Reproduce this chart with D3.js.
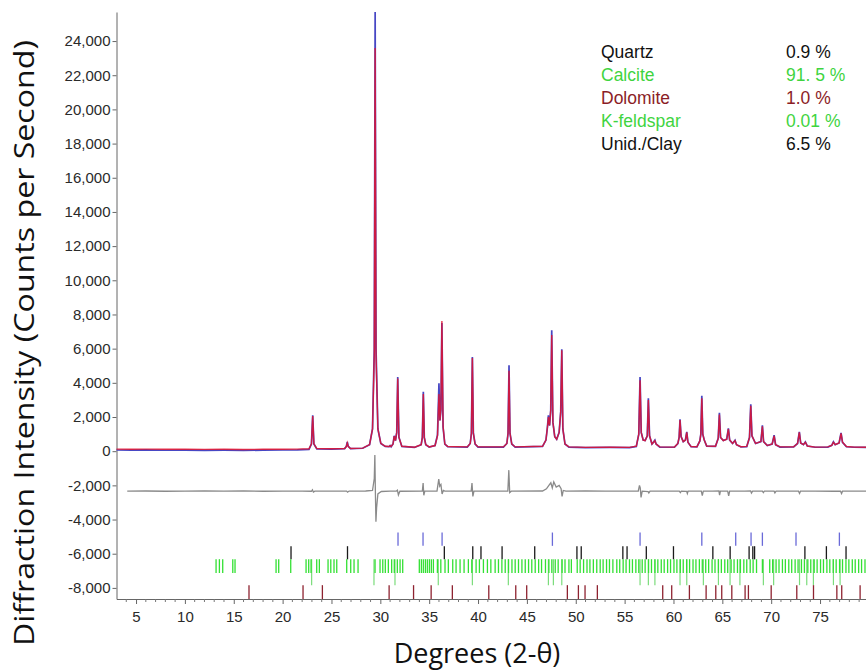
<!DOCTYPE html>
<html>
<head>
<meta charset="utf-8">
<script src="https://cdn.jsdelivr.net/npm/d3@7"></script>
<style>
  body { margin: 0; background: #fff; }
  svg { display: block; }
</style>
</head>
<body>
<svg id="chart" width="866" height="672"></svg>
<script>
// ---- X-ray diffraction pattern: observed vs. calculated (Rietveld fit) ----

// Observed intensity, [2-theta degrees, counts per second]
const observed = [
  [3.0, 70], [4.5, 60], [6.0, 75], [8.0, 55], [10.0, 65], [12.0, 50], [14.0, 60], [16.0, 45], [18.0, 60], [20.0, 70], [21.5, 80], [22.7, 110],
  [22.95, 420], [23.08, 2100], [23.2, 420], [23.5, 130],
  [25.0, 120], [26.35, 150], [26.52, 280], [26.62, 540], [26.72, 280], [26.95, 150],
  [28.2, 170], [28.9, 380], [29.2, 1300], [29.38, 6000], [29.47, 25700], [29.56, 6000], [29.75, 1300], [30.05, 450], [30.5, 280],
  [30.9, 260], [31.0, 330], [31.1, 260], [31.3, 420], [31.42, 900], [31.55, 620], [31.68, 1100], [31.78, 4345], [31.9, 820], [32.2, 280],
  [33.5, 220], [34.18, 380], [34.3, 800], [34.4, 3470], [34.5, 800], [34.65, 380], [35.0, 240],
  [35.6, 330], [35.85, 950], [36.0, 3980], [36.1, 1800], [36.2, 2400], [36.3, 7500], [36.42, 1400], [36.6, 420], [36.9, 260],
  [38.9, 240], [39.2, 450], [39.32, 1050], [39.42, 5515], [39.52, 1050], [39.7, 420], [40.0, 240],
  [42.6, 240], [42.95, 450], [43.07, 1050], [43.17, 5030], [43.27, 1050], [43.45, 420], [43.8, 240],
  [46.6, 280], [46.95, 650], [47.1, 1400], [47.2, 2100], [47.32, 1500], [47.44, 2400], [47.54, 7076], [47.66, 1700], [47.85, 850], [48.05, 700], [48.3, 1100], [48.46, 2300], [48.57, 5965], [48.68, 1300], [48.9, 420], [49.3, 240],
  [51.0, 210], [53.5, 220], [55.5, 210],
  [56.2, 280], [56.45, 1000], [56.58, 4345], [56.7, 1100], [56.9, 650], [57.1, 620], [57.32, 900], [57.43, 3100], [57.55, 900], [57.8, 420], [58.0, 560], [58.1, 640], [58.22, 420], [58.6, 240],
  [60.1, 230], [60.45, 450], [60.58, 800], [60.67, 1870], [60.78, 850], [61.0, 560], [61.22, 650], [61.36, 1130], [61.48, 520], [61.8, 260],
  [62.4, 250], [62.7, 600], [62.8, 1000], [62.9, 3240], [63.0, 1000], [63.15, 650], [63.4, 300],
  [64.3, 280], [64.58, 750], [64.7, 2240], [64.82, 800], [65.1, 620], [65.45, 700], [65.62, 1340], [65.75, 650], [66.05, 450], [66.3, 640], [66.45, 380], [66.9, 250],
  [67.5, 270], [67.78, 800], [67.91, 2750], [68.03, 900], [68.4, 450], [68.95, 560], [69.1, 1520], [69.22, 560], [69.6, 330], [70.1, 420], [70.3, 935], [70.45, 380], [70.9, 240],
  [72.3, 250], [72.7, 450], [72.88, 1130], [73.02, 480], [73.3, 380], [73.5, 545], [73.7, 300], [74.5, 230],
  [75.8, 240], [76.2, 340], [76.37, 545], [76.55, 380], [76.95, 480], [77.15, 1070], [77.3, 520], [77.7, 260], [78.5, 230], [80.0, 220]
];

// Calculated (refined model) intensity
const calculated = [
  [3.0, 120], [4.5, 115], [6.0, 120], [8.0, 110], [10.0, 115], [12.0, 105], [14.0, 110], [16.0, 100], [18.0, 110], [20.0, 115], [21.5, 120], [22.7, 140],
  [22.95, 430], [23.08, 2050], [23.2, 430], [23.5, 150],
  [25.0, 140], [26.35, 160], [26.52, 270], [26.62, 480], [26.72, 270], [26.95, 160],
  [28.2, 180], [28.9, 390], [29.2, 1300], [29.38, 5600], [29.47, 23600], [29.56, 5600], [29.75, 1300], [30.05, 460], [30.5, 290],
  [30.9, 270], [31.0, 320], [31.1, 270], [31.3, 420], [31.42, 880], [31.55, 620], [31.68, 1100], [31.78, 4250], [31.9, 820], [32.2, 290],
  [33.5, 230], [34.18, 380], [34.3, 790], [34.4, 3350], [34.5, 790], [34.65, 380], [35.0, 250],
  [35.6, 330], [35.85, 900], [36.0, 3350], [36.1, 1800], [36.2, 2500], [36.3, 7620], [36.42, 1450], [36.6, 420], [36.9, 270],
  [38.9, 250], [39.2, 450], [39.32, 1050], [39.42, 5450], [39.52, 1050], [39.7, 420], [40.0, 250],
  [42.6, 250], [42.95, 450], [43.07, 1050], [43.17, 4700], [43.27, 1050], [43.45, 420], [43.8, 250],
  [46.6, 290], [46.95, 650], [47.1, 1400], [47.2, 2000], [47.32, 1500], [47.44, 2400], [47.54, 6800], [47.66, 1700], [47.85, 850], [48.05, 700], [48.3, 1100], [48.46, 2300], [48.57, 5900], [48.68, 1300], [48.9, 420], [49.3, 250],
  [51.0, 220], [53.5, 230], [55.5, 220],
  [56.2, 290], [56.45, 1000], [56.58, 4150], [56.7, 1100], [56.9, 650], [57.1, 620], [57.32, 900], [57.43, 3000], [57.55, 900], [57.8, 420], [58.0, 550], [58.1, 620], [58.22, 420], [58.6, 250],
  [60.1, 240], [60.45, 450], [60.58, 800], [60.67, 1820], [60.78, 850], [61.0, 560], [61.22, 650], [61.36, 1100], [61.48, 520], [61.8, 270],
  [62.4, 260], [62.7, 600], [62.8, 1000], [62.9, 3100], [63.0, 1000], [63.15, 650], [63.4, 300],
  [64.3, 290], [64.58, 750], [64.7, 2150], [64.82, 800], [65.1, 620], [65.45, 700], [65.62, 1300], [65.75, 650], [66.05, 450], [66.3, 620], [66.45, 380], [66.9, 260],
  [67.5, 280], [67.78, 800], [67.91, 2650], [68.03, 900], [68.4, 450], [68.95, 560], [69.1, 1460], [69.22, 560], [69.6, 330], [70.1, 420], [70.3, 900], [70.45, 380], [70.9, 250],
  [72.3, 260], [72.7, 450], [72.88, 1100], [73.02, 480], [73.3, 380], [73.5, 520], [73.7, 300], [74.5, 240],
  [75.8, 250], [76.2, 340], [76.37, 520], [76.55, 380], [76.95, 480], [77.15, 1040], [77.3, 520], [77.7, 270], [78.5, 240], [80.0, 230]
];

// Difference curve (observed - calculated), drawn offset below zero
const difference = [
  [4.1, -2340], [6, -2330], [8, -2345], [10, -2335], [12, -2330], [14, -2340], [16, -2330], [18, -2345], [20, -2335], [22, -2340],
  [22.95, -2345], [23.05, -2260], [23.15, -2390], [23.3, -2335],
  [25, -2340], [26.55, -2340], [26.65, -2400], [26.8, -2335],
  [28.5, -2330], [29.2, -2300], [29.38, -1600], [29.44, -230], [29.5, -2600], [29.55, -4130], [29.62, -3300], [29.75, -2500], [30.1, -2360], [31.0, -2335],
  [31.65, -2330], [31.75, -2280], [31.85, -2560], [32.0, -2345],
  [34.3, -2340], [34.38, -1870], [34.45, -2580], [34.55, -2340],
  [35.8, -2330], [35.98, -1640], [36.08, -2050], [36.2, -1950], [36.32, -2500], [36.45, -2300], [36.6, -2340],
  [39.3, -2340], [39.38, -1870], [39.47, -2650], [39.58, -2340],
  [43.05, -2340], [43.15, -1110], [43.24, -2420], [43.4, -2340],
  [46.6, -2330], [47.0, -2200], [47.25, -2000], [47.45, -1850], [47.6, -2150], [47.75, -1800], [48.0, -2100], [48.3, -2000], [48.5, -2200], [48.6, -2650], [48.72, -2300], [49.0, -2340],
  [51, -2330], [53, -2340], [55, -2335], [56.4, -2330], [56.52, -2000], [56.6, -2150], [56.68, -2700], [56.8, -2340], [57.4, -2360], [57.48, -2450], [57.6, -2340],
  [59, -2335], [60.6, -2340], [60.7, -2420], [60.8, -2335], [61.35, -2350], [61.42, -2480], [61.5, -2335],
  [62.85, -2340], [62.95, -2600], [63.05, -2335], [64.0, -2340], [64.65, -2330], [64.72, -2570], [64.8, -2335], [65.55, -2340], [65.65, -2620], [65.75, -2335],
  [67.3, -2340], [67.9, -2330], [67.98, -2450], [68.1, -2335], [69.1, -2340], [69.2, -2420], [69.3, -2340], [70.3, -2340], [70.38, -2440], [70.5, -2335],
  [72.8, -2340], [72.9, -2470], [73.0, -2340], [74.5, -2335], [76.4, -2345], [77.1, -2340], [77.2, -2480], [77.3, -2340], [78.5, -2335], [80.0, -2340]
];

// Reflection positions (2-theta) for each phase row
const blueTicks = [31.81, 34.37, 36.32, 47.61, 56.58, 62.90, 66.37, 67.94, 69.10, 72.54, 76.98];
const quartzTicks = [20.86, 26.64, 36.55, 39.46, 40.30, 42.46, 45.80, 50.12, 50.56, 54.82, 55.25, 57.22, 60.00, 64.03, 65.80, 67.74, 68.12, 68.30, 73.45, 75.65, 77.66];
const feldsparTicks = [
  13.19, 13.53, 13.87, 14.90, 15.13, 19.33, 19.60, 20.83, 22.40, 22.67, 22.91, 23.49, 23.76,
  24.65, 24.93, 25.26, 25.54, 26.56, 26.97, 27.31, 27.72,
  29.46, 29.97, 30.25, 30.51, 30.82, 31.16, 31.43, 31.74, 32.02, 32.29,
  33.99, 34.20, 34.40, 34.61, 34.81, 35.02, 35.22, 35.43,
  35.84, 36.19, 36.62, 36.96, 37.41, 37.75, 38.16, 38.57, 39.01, 39.36, 39.80, 40.14, 40.55, 40.96,
  41.31, 41.75, 42.09, 42.44, 42.78, 43.12, 43.47, 43.80, 44.14, 44.49, 44.83, 45.17,
  45.50, 45.85, 46.20, 46.50, 46.90, 47.25, 47.55, 47.90, 48.20, 48.60, 48.90, 49.30, 49.55,
  50.15, 50.45, 50.80, 51.15, 51.45, 51.80, 52.15, 52.50, 52.80, 53.15, 53.45, 53.80, 54.20, 54.50,
  54.85, 55.15, 55.50, 55.80, 56.15, 56.45, 56.80, 57.10, 57.45, 57.75, 58.10, 58.40, 58.75, 59.05,
  59.40, 59.70, 60.05, 60.35, 60.70, 61.00, 61.35, 61.65, 62.00, 62.30, 62.65, 62.95, 63.30, 63.60,
  63.95, 64.25, 64.60, 64.90, 65.25, 65.55, 65.90, 66.20, 66.55, 66.85, 67.20, 67.50, 67.85, 68.15, 68.50,
  69.10,
  69.85, 70.15, 70.50, 70.80, 71.15, 71.45, 71.80, 72.10, 72.45, 72.75, 73.10, 73.40, 73.75, 74.05,
  74.40, 74.70, 75.05, 75.35, 75.70, 76.00, 76.35, 76.65, 77.00, 77.30, 77.65, 77.95, 78.30, 78.60,
  78.95, 79.25, 79.60
];
const calciteTicks = [22.97, 29.35, 31.50, 35.93, 39.42, 43.10, 47.20, 47.71, 48.57, 56.58, 57.43, 58.10, 60.67, 61.36, 63.06, 64.60, 65.79, 66.80, 69.20, 70.25, 72.90, 73.64, 74.32, 76.37, 77.05];
const dolomiteTicks = [16.56, 22.09, 24.07, 30.90, 33.40, 35.20, 37.37, 41.10, 43.86, 44.98, 49.14, 50.27, 50.95, 52.21, 58.90, 59.82, 61.63, 63.34, 64.33, 64.94, 65.97, 67.33, 67.67, 70.00, 72.62, 74.33, 76.72, 77.22, 79.10];

// Axis ticks
const yTicks = [-8000, -6000, -4000, -2000, 0, 2000, 4000, 6000, 8000, 10000, 12000, 14000, 16000, 18000, 20000, 22000, 24000];
const xTicks = [5, 10, 15, 20, 25, 30, 35, 40, 45, 50, 55, 60, 65, 70, 75];

// Quantification legend
const phaseNames = ["Quartz", "Calcite", "Dolomite", "K-feldspar", "Unid./Clay"];
const phasePercents = ["0.9 %", "91. 5 %", "1.0 %", "0.01 %", "6.5 %"];
const phaseColors = ["#111111", "#3fd43f", "#8b1d26", "#3fd43f", "#111111"];

// ---- drawing ----
const svg = d3.select("#chart");
const x = d3.scaleLinear().domain([3, 80]).range([116.5, 868.9]);
const y = d3.scaleLinear().domain([-8650, 25700]).range([599, 12]);

const fmt = d3.formatLocale({ decimal: ".", thousands: ",", grouping: [3], currency: ["", ""], minus: "-" }).format(",");

// x axis with minor ticks
const xAxisG = svg.append("g").attr("transform", `translate(0,${y(-8650)})`);
xAxisG.call(d3.axisBottom(x).tickValues(xTicks).tickSize(5).tickPadding(7).tickSizeOuter(0));
const minor = d3.range(4, 80).filter(v => v % 5 !== 0);
xAxisG.selectAll(".minor").data(minor).enter().append("line")
  .attr("class", "minor").attr("x1", d => x(d)).attr("x2", d => x(d))
  .attr("y1", 0).attr("y2", 3).attr("stroke", "#777");

const yAxisG = svg.append("g").attr("transform", `translate(${x(3)},0)`);
yAxisG.call(d3.axisLeft(y).tickValues(yTicks).tickFormat(fmt).tickSize(4).tickPadding(2).tickSizeOuter(0));

svg.selectAll(".domain").attr("stroke", "#666");
svg.selectAll(".tick line").attr("stroke", "#666");
svg.selectAll(".tick text").attr("fill", "#2a2a2a")
  .style("font-family", "'Liberation Sans', Arial, sans-serif").style("font-size", "15px");

// reflection marker rows
const rows = [
  { data: blueTicks, top: -4760, bottom: -5540, color: "#6a6ad8", w: 1.3 },
  { data: quartzTicks, top: -5560, bottom: -6330, color: "#1a1a1a", w: 1.3 },
  { data: calciteTicks, top: -6320, bottom: -7840, color: "#7bdc7b", w: 1.2 },
  { data: feldsparTicks, top: -6320, bottom: -7130, color: "#33e033", w: 1.3 },
  { data: dolomiteTicks, top: -7840, bottom: -8650, color: "#8e2230", w: 1.3 }
];
rows.forEach(r => {
  svg.append("g").selectAll("line").data(r.data).enter().append("line")
    .attr("x1", d => x(d)).attr("x2", d => x(d))
    .attr("y1", y(r.top)).attr("y2", y(r.bottom))
    .attr("stroke", r.color).attr("stroke-width", r.w);
});

const line = d3.line().x(d => x(d[0])).y(d => y(d[1]));

svg.append("path").datum(difference).attr("d", line)
  .attr("fill", "none").attr("stroke", "#8a8a8a").attr("stroke-width", 1.3);
svg.append("path").datum(observed).attr("d", line)
  .attr("fill", "none").attr("stroke", "#4747c4").attr("stroke-width", 1.7);
svg.append("path").datum(calculated).attr("d", line)
  .attr("fill", "none").attr("stroke", "#e3122d").attr("stroke-width", 1.4).attr("stroke-opacity", 0.85);

// axis titles
svg.append("text").text("Degrees (2-θ)")
  .attr("x", 477).attr("y", 663).attr("text-anchor", "middle")
  .style("font-family", "'Open Sans', sans-serif").style("font-size", "27px").attr("fill", "#111");
svg.append("text").text("Diffraction Intensity (Counts per Second)")
  .attr("transform", "translate(34,343) rotate(-90)").attr("text-anchor", "middle")
  .attr("textLength", 606).attr("lengthAdjust", "spacingAndGlyphs")
  .style("font-family", "'Open Sans', sans-serif").style("font-size", "28px").attr("fill", "#111");

// legend
const leg = svg.append("g").style("font-family", "'Liberation Sans', Arial, sans-serif").style("font-size", "17.5px");
phaseNames.forEach((n, i) => {
  leg.append("text").text(n).attr("x", 601).attr("y", 58 + i * 23.1).attr("fill", phaseColors[i]);
  leg.append("text").text(phasePercents[i]).attr("x", 786).attr("y", 58 + i * 23.1).attr("fill", phaseColors[i]);
});
</script>
</body>
</html>
